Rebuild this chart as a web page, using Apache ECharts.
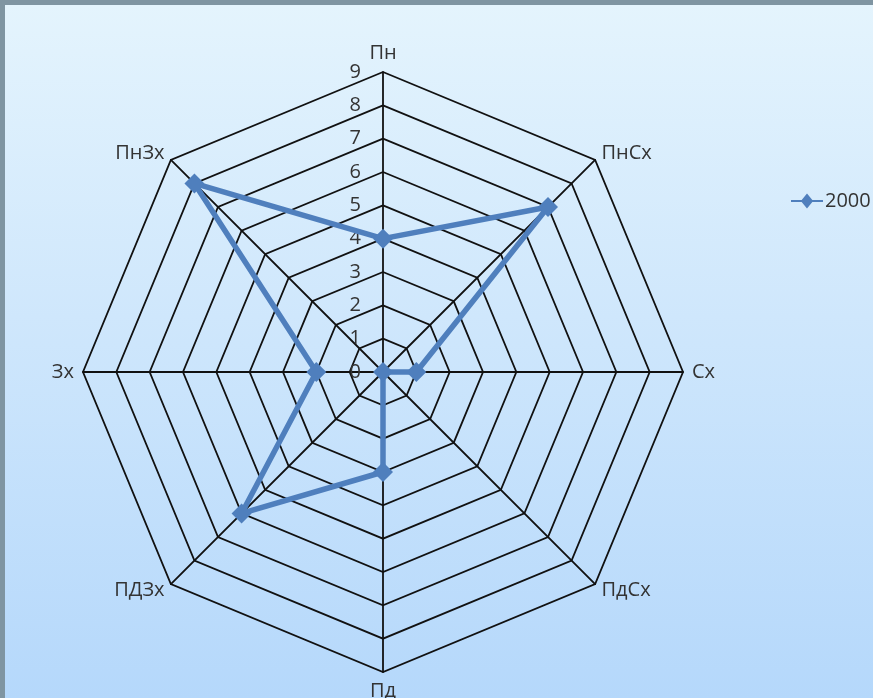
<!DOCTYPE html>
<html>
<head>
<meta charset="utf-8">
<script src="https://cdn.jsdelivr.net/npm/echarts@6/dist/echarts.min.js"></script>
<style>
  html, body { margin: 0; padding: 0; }
  body { width: 873px; height: 698px; background: #7f95a2; position: relative; overflow: hidden; }
  #bg { position: absolute; left: 5px; top: 5px; width: 868px; height: 693px;
        background: linear-gradient(to bottom, #e4f4fd 0%, #cfe7fc 45%, #b5d8fb 100%); }
  #main { position: absolute; left: 0; top: 0; width: 873px; height: 698px; }
</style>
</head>
<body>
<div id="bg"></div>
<div id="main"></div>
<script>
// напрямки (за годинниковою стрілкою від верху)
var directions = ['Пн', 'ПнСх', 'Сх', 'ПдСх', 'Пд', 'ПДЗх', 'Зх', 'ПнЗх'];
var values2000 = [4, 7, 1, 0, 3, 6, 2, 8];
var seriesName = '2000';
var axisMax = 9;

var chartDom = document.getElementById('main');
var myChart = echarts.init(chartDom, null, { renderer: 'canvas' });

// ECharts малює індикатори проти годинникової — перевертаємо порядок
var order = [0];
for (var i = directions.length - 1; i > 0; i--) order.push(i);

var indicator = order.map(function (idx, k) {
  var ind = { name: directions[idx], max: axisMax, min: 0 };
  if (k === 0) {
    ind.axisLabel = {
      show: true,
      color: '#333',
      fontSize: 20,
      margin: 22,
      showMinLabel: true
    };
  }
  return ind;
});

var option = {
  backgroundColor: 'transparent',
  textStyle: { fontFamily: 'Open Sans, sans-serif' },
  legend: {
    data: [{
      name: seriesName,
      icon: 'path://M0,6 L10,6 L15,0 L20,6 L30,6 L30,8 L20,8 L15,14 L10,8 L0,8 Z'
    }],
    left: 786,
    top: 186,
    itemWidth: 32,
    itemHeight: 16,
    itemGap: 4,
    textStyle: { fontSize: 20, color: '#333', fontFamily: 'Open Sans, sans-serif', padding: [0, 0, 0, -3] }
  },
  radar: {
    center: [383, 372],
    radius: 300,
    startAngle: 90,
    shape: 'polygon',
    splitNumber: 9,
    nameGap: 9,
    axisName: { color: '#333', fontSize: 20, fontFamily: 'Open Sans, sans-serif' },
    axisLine: { lineStyle: { color: '#111', width: 1.8 } },
    splitLine: { lineStyle: { color: '#111', width: 1.8 } },
    splitArea: { show: false },
    axisTick: { show: false },
    axisLabel: { show: false, fontSize: 20, color: '#333', margin: 22, fontFamily: 'Open Sans, sans-serif' },
    indicator: indicator
  },
  series: [{
    name: seriesName,
    type: 'radar',
    symbol: 'diamond',
    symbolSize: 20,
    itemStyle: { color: '#4f7fbd' },
    lineStyle: { color: '#4f7fbd', width: 5.5 },
    data: [{ name: seriesName, value: order.map(function (idx) { return values2000[idx]; }) }]
  }]
};

myChart.setOption(option);
</script>
</body>
</html>
